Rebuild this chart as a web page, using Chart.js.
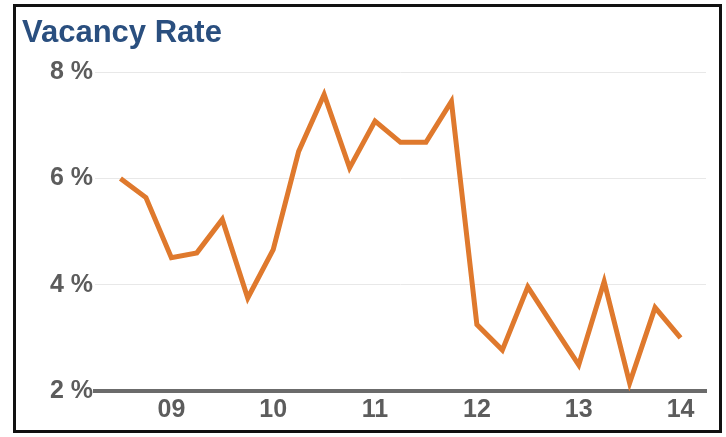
<!DOCTYPE html>
<html>
<head>
<meta charset="utf-8">
<script src="https://cdn.jsdelivr.net/npm/chart.js@4/dist/chart.umd.min.js"></script>
<style>
  body { margin: 0; background: #ffffff; }
  #frame {
    position: absolute;
    left: 13px;
    top: 4px;
    width: 703px;
    height: 423px;
    border: 3px solid #111111;
    background: #ffffff;
  }
</style>
</head>
<body>
<div id="frame"><canvas id="chart" width="703" height="423"></canvas></div>
<script>
'use strict';

// quarters from Q3 2008 to Q1 2014
const quarters = [
  'Q3 08', 'Q4 08',
  'Q1 09', 'Q2 09', 'Q3 09', 'Q4 09',
  'Q1 10', 'Q2 10', 'Q3 10', 'Q4 10',
  'Q1 11', 'Q2 11', 'Q3 11', 'Q4 11',
  'Q1 12', 'Q2 12', 'Q3 12', 'Q4 12',
  'Q1 13', 'Q2 13', 'Q3 13', 'Q4 13',
  'Q1 14'
];
const vacancy = [
  6.0, 5.64,
  4.51, 4.6, 5.23, 3.75,
  4.66, 6.51, 7.58, 6.2,
  7.08, 6.68, 6.68, 7.45,
  3.25, 2.77, 3.96, 3.22,
  2.49, 4.06, 2.15, 3.57,
  3.0
];
const yearLabels = ['09', '10', '11', '12', '13', '14'];
const yearIndex = [2, 6, 10, 14, 18, 22];
const yTicks = [2, 4, 6, 8];

let points = [];
for (let i = 0; i < quarters.length; i++) {
  points.push({ x: i, y: vacancy[i] });
}

const tickFont = { family: "'Liberation Sans', Arial, sans-serif", size: 25, weight: 'bold' };

const ctx = document.getElementById('chart');
new Chart(ctx, {
  type: 'line',
  data: {
    datasets: [{
      label: 'Vacancy Rate',
      data: points,
      borderColor: '#df792d',
      borderWidth: 5,
      pointRadius: 0,
      tension: 0,
      borderJoinStyle: 'miter',
      borderCapStyle: 'butt'
    }]
  },
  options: {
    responsive: false,
    animation: false,
    layout: {
      padding: { left: 6, right: 13, top: 0, bottom: 0 }
    },
    plugins: {
      legend: { display: false },
      tooltip: { enabled: false },
      title: {
        display: true,
        text: 'Vacancy Rate',
        align: 'start',
        color: '#2a4f7f',
        font: { family: "'Liberation Sans', Arial, sans-serif", size: 31, weight: 'bold' },
        padding: { top: 8, bottom: 20 }
      }
    },
    scales: {
      x: {
        type: 'linear',
        min: -1,
        max: 23,
        afterBuildTicks: function(scale) {
          scale.ticks = yearIndex.map(function(v) { return { value: v }; });
        },
        afterFit: function(scale) {
          scale.height = 39;
        },
        ticks: {
          autoSkip: false,
          maxRotation: 0,
          padding: 4,
          color: '#5c5c5c',
          font: tickFont,
          callback: function(value) {
            const k = yearIndex.indexOf(value);
            return k >= 0 ? yearLabels[k] : '';
          }
        },
        grid: { display: false, drawTicks: false },
        border: { display: true, color: '#6b6b6b', width: 4 }
      },
      y: {
        min: 2,
        max: 8,
        afterBuildTicks: function(scale) {
          scale.ticks = yTicks.map(function(v) { return { value: v }; });
        },
        afterFit: function(scale) {
          scale.width = 73;
        },
        ticks: {
          padding: 2,
          color: '#5c5c5c',
          font: tickFont,
          callback: function(value) {
            return value + ' %';
          }
        },
        grid: { color: '#e8e8e8', lineWidth: 1, drawTicks: false },
        border: { display: false }
      }
    }
  }
});
</script>
</body>
</html>
